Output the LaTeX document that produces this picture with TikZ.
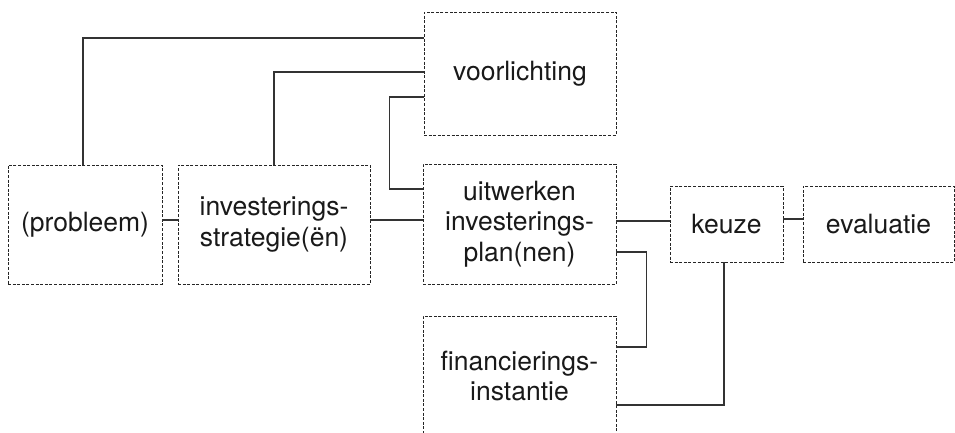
\documentclass[tikz,border=0pt]{standalone}
\usepackage{fontspec}
\setmainfont{TeX Gyre Heros}
\begin{document}
\begin{tikzpicture}[x=1pt,y=-1pt,
  box/.style={draw=black!85, dash pattern=on 3pt off 1.6pt, line width=0.7pt,
    rectangle, inner sep=0pt, align=center, text=black!90,
    font=\fontsize{26.5}{30.5}\selectfont},
  conn/.style={draw=black!80, line width=1.1pt}]
\useasboundingbox[fill=white] (0,0) rectangle (955,433);
\begin{scope}
\clip (0,0) rectangle (955,433);
\node[box, minimum width=192pt, minimum height=123pt] (vo) at (520,73.5) {voorlichting};
\node[box, minimum width=154pt, minimum height=119pt] (pr) at (85,224.5) {(probleem)};
\node[box, minimum width=192pt, minimum height=119pt] (st) at (274,224.5) {investerings-\\strategie(ën)};
\node[box, minimum width=193pt, minimum height=120pt] (uw) at (519.5,224) {uitwerken\\investerings-\\plan(nen)};
\node[box, minimum width=113pt, minimum height=76pt] (ke) at (726.5,224) {keuze};
\node[box, minimum width=151pt, minimum height=76pt] (ev) at (878.5,224) {evaluatie};
\node[box, minimum width=193pt, minimum height=120pt] (fi) at (519.5,376) {financierings-\\instantie};
\end{scope}
\draw[conn] ([xshift=-2pt]pr.north) |- ([yshift=35.5pt]vo.west);
\draw[conn] (st.north) |- ([yshift=1.5pt]vo.west);
\draw[conn] ([yshift=-23.5pt]vo.west) -- ++(-34,0) |- ([yshift=35pt]uw.west);
\draw[conn] ([yshift=4.5pt]pr.east) -- ([yshift=4.5pt]st.west);
\draw[conn] ([yshift=4.5pt]st.east) -- ([yshift=4pt]uw.west);
\draw[conn] ([yshift=3pt]uw.east) -- ([yshift=3pt]ke.west);
\draw[conn] ([yshift=5pt]ke.east) -- ([yshift=5pt]ev.west);
\draw[conn] ([yshift=-28pt]uw.east) -- ++(30,0) |- ([yshift=29pt]fi.east);
\draw[conn] ([xshift=-2.5pt]ke.south) |- ([yshift=-29pt]fi.east);
\end{tikzpicture}
\end{document}
